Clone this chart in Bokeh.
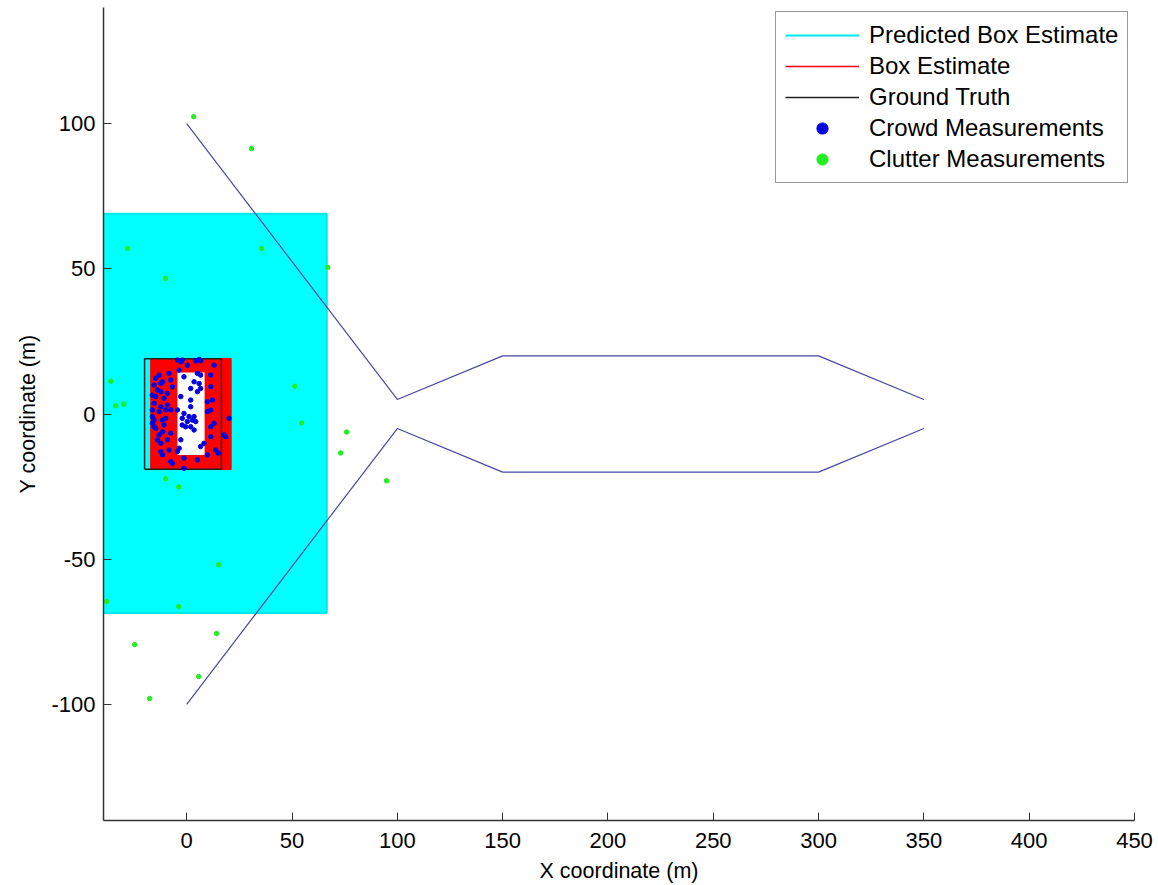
from bokeh.plotting import figure
from bokeh.models import FixedTicker, Legend, LegendItem, Range1d
from bokeh.embed import file_html
from bokeh.resources import INLINE

# ---- data ----
x_ticks = [0, 50, 100, 150, 200, 250, 300, 350, 400, 450]
y_ticks = [-100, -50, 0, 50, 100]
y_tick_labels = {-100: "-100", -50: "-50", 0: "0", 50: "50", 100: "100"}

# trajectories (ground-truth paths of two groups)
traj_upper_x = [0, 100, 150, 300, 350]
traj_upper_y = [100, 5, 20, 20, 5]
traj_lower_x = [0, 100, 150, 300, 350]
traj_lower_y = [-100, -5, -20, -20, -5]

# predicted box estimate (cyan)
pred_box = dict(left=-45.0, right=66.5, bottom=-68.5, top=69.0)
# box estimate (red with white hollow)
est_box = dict(left=-17.0, right=21.0, bottom=-19.0, top=19.0)
est_hole = dict(left=-4.4, right=8.5, bottom=-14.1, top=14.3)
# ground truth box (black)
gt_box = dict(left=-20.0, right=16.5, bottom=-19.0, top=19.0)

crowd_x = [-2.8, -2.1, 5.9, 6.6, 0.3, -8.4, -3.6, 5.1, 6.6, 11.4, -11.5, -12.3, -1.3, 3.5, 5.9,
           -13.9, -12.3, -6.8, 6.6, 11.4, -14.7, -10.8, -15.5, -9.2, 1.9, 9.8, 12.2, -16.3, -13.1,
           -7.6, -1.3, 1.9, 3.5, 9.8, -15.5, -11.5, -10.0, 2.7, 4.3, -2.1, 0.3, 1.9, 20.1, -15.5,
           -10.8, 11.4, -13.1, -7.6, -13.9, -9.2, -12.3, 11.4, 17.7, 18.5, -3.6, 6.6, 13.8, -11.5,
           -1.3, -7.6, -6.8, 9.8, -1.3, 5.1, -4.4, -16.3, -16.3, -14.7, -12.3, -9.2, 5.1, -2.1,
           1.1, -0.5, 3.5, -4.4, -2.8, 1.9, -7.6, -10.0, -11.5, -2.8, 11.4, 13.0, 8.2,
           -4.4, 4.3, -14.7, -13.1, 13.0, -8.4, -12.3, 15.0, -15.5, -16.3]
crowd_y = [18.0, 18.6, 18.8, 18.3, 16.8, 14.0, 15.1, 14.0, 13.4, 13.4, 11.1, 10.5, 12.8, 11.1, 10.5,
           8.3, 7.7, 9.4, 8.8, 9.4, 6.0, 5.4, 3.7, 3.1, 4.8, 4.2, 4.8, 1.4, 0.8,
           1.4, 0.2, 2.5, -0.9, 0.8, -2.1, -2.1, -1.5, -2.1, -2.6, -3.8, -2.6, -4.4, -1.5, -4.4,
           -3.8, -4.4, -7.2, -6.6, -8.9, -8.9, -10.1, -7.8, -7.2, -7.8, -11.8, -11.2, -12.4, -14.1,
           -15.2, -16.4, -17.0, -14.1, -18.7, -15.8, -12.9, -0.9, -3.2, -4.9, 2.5, 7.1, 7.7, -1.5,
           -0.9, -4.4, -5.5, 1.4, 6.0, 8.8, 11.7, 1.4, -6.1, -8.9, 1.4, -3.2, -10.1,
           18.6, 18.3, 12.3, 13.4, 16.8, -12.4, -13.0, -13.5, 10.0, 6.5]

clutter_x = [3.3, 30.8, -28.0, 35.6, -10.0, 66.9, -36.0, -33.7, -29.9, 51.3, 54.6, 75.9, 73.1,
             94.9, -10.0, -3.8, 15.2, -38.0, -3.8, 14.2, -24.7, 5.7, -17.6]
clutter_y = [102.4, 91.4, 57.0, 57.0, 46.7, 50.5, 11.3, 2.8, 3.4, 9.6, -3.1, -6.2, -13.4,
             -23.0, -22.3, -25.1, -51.9, -64.6, -66.3, -75.6, -79.4, -90.4, -98.0]

FONT = "Liberation Sans"


def outline(b):
    return ([b["left"], b["right"], b["right"], b["left"], b["left"]],
            [b["bottom"], b["bottom"], b["top"], b["top"], b["bottom"]])


p = figure(width=1158, height=885, output_backend="svg", toolbar_location=None,
           x_range=Range1d(-39.5, 450), y_range=Range1d(-140, 140),
           min_border_left=103, min_border_right=24, min_border_top=7, min_border_bottom=63)
p.outline_line_color = None
p.xgrid.visible = False
p.ygrid.visible = False
p.background_fill_color = "white"
p.border_fill_color = "white"

# predicted box
p.quad(left=[pred_box["left"]], right=[pred_box["right"]], bottom=[pred_box["bottom"]],
       top=[pred_box["top"]], fill_color="#00ffff", line_color=None)
px_, py_ = outline(pred_box)
r_pred = p.line(px_, py_, line_color="#00e8e8", line_width=2)

# box estimate
p.quad(left=[est_box["left"]], right=[est_box["right"]], bottom=[est_box["bottom"]],
       top=[est_box["top"]], fill_color="#ff0000", line_color=None)
p.quad(left=[est_hole["left"]], right=[est_hole["right"]], bottom=[est_hole["bottom"]],
       top=[est_hole["top"]], fill_color="white", line_color=None)
ex_, ey_ = outline(est_box)
r_est = p.line(ex_, ey_, line_color="#ff0000", line_width=1.6)

# ground truth box
gx_, gy_ = outline(gt_box)
r_gt = p.line(gx_, gy_, line_color="#202020", line_width=1.5)

# trajectories
p.line(traj_upper_x, traj_upper_y, line_color="#4848a0", line_width=1.2)
p.line(traj_lower_x, traj_lower_y, line_color="#4848a0", line_width=1.2)

r_crowd = p.scatter(crowd_x, crowd_y, size=4.5, fill_color="#0000e0", line_color="#0000e0", marker="circle")
r_clutter = p.scatter(clutter_x, clutter_y, size=4.5, fill_color="#22ee22", line_color="#22ee22", marker="circle")

legend = Legend(items=[
    LegendItem(label="Predicted Box Estimate", renderers=[r_pred]),
    LegendItem(label="Box Estimate", renderers=[r_est]),
    LegendItem(label="Ground Truth", renderers=[r_gt]),
    LegendItem(label="Crowd Measurements", renderers=[r_crowd]),
    LegendItem(label="Clutter Measurements", renderers=[r_clutter]),
], location=(672, 637))
legend.label_text_font = FONT
legend.label_text_font_size = "24px"
legend.label_text_color = "black"
legend.glyph_width = 74
legend.glyph_height = 28
legend.label_height = 28
legend.spacing = 3
legend.padding = 9
legend.label_standoff = 10
legend.border_line_color = "#333333"
legend.border_line_width = 1.2
legend.background_fill_color = "white"
legend.background_fill_alpha = 1.0
p.add_layout(legend)

for ax in (p.xaxis[0], p.yaxis[0]):
    ax.axis_line_color = "#333333"
    ax.axis_line_width = 1.5
    ax.major_tick_line_color = "#333333"
    ax.major_tick_in = 8
    ax.major_tick_out = 0
    ax.minor_tick_line_color = None
    ax.major_label_text_font = FONT
    ax.major_label_text_font_size = "22px"
    ax.major_label_text_color = "black"
    ax.axis_label_text_font = FONT
    ax.axis_label_text_font_size = "21.5px"
    ax.axis_label_text_font_style = "normal"
    ax.axis_label_text_color = "black"

p.xaxis[0].ticker = FixedTicker(ticks=x_ticks)
p.yaxis[0].ticker = FixedTicker(ticks=y_ticks)
p.yaxis[0].major_label_overrides = y_tick_labels
p.xaxis[0].axis_label = "X coordinate (m)"
p.yaxis[0].axis_label = "Y coordinate (m)"
p.xaxis[0].major_label_standoff = 12
p.xaxis[0].axis_label_standoff = 8
p.yaxis[0].major_label_standoff = 8
p.yaxis[0].axis_label_standoff = 8

open("out.html", "w").write(file_html(p, INLINE))
